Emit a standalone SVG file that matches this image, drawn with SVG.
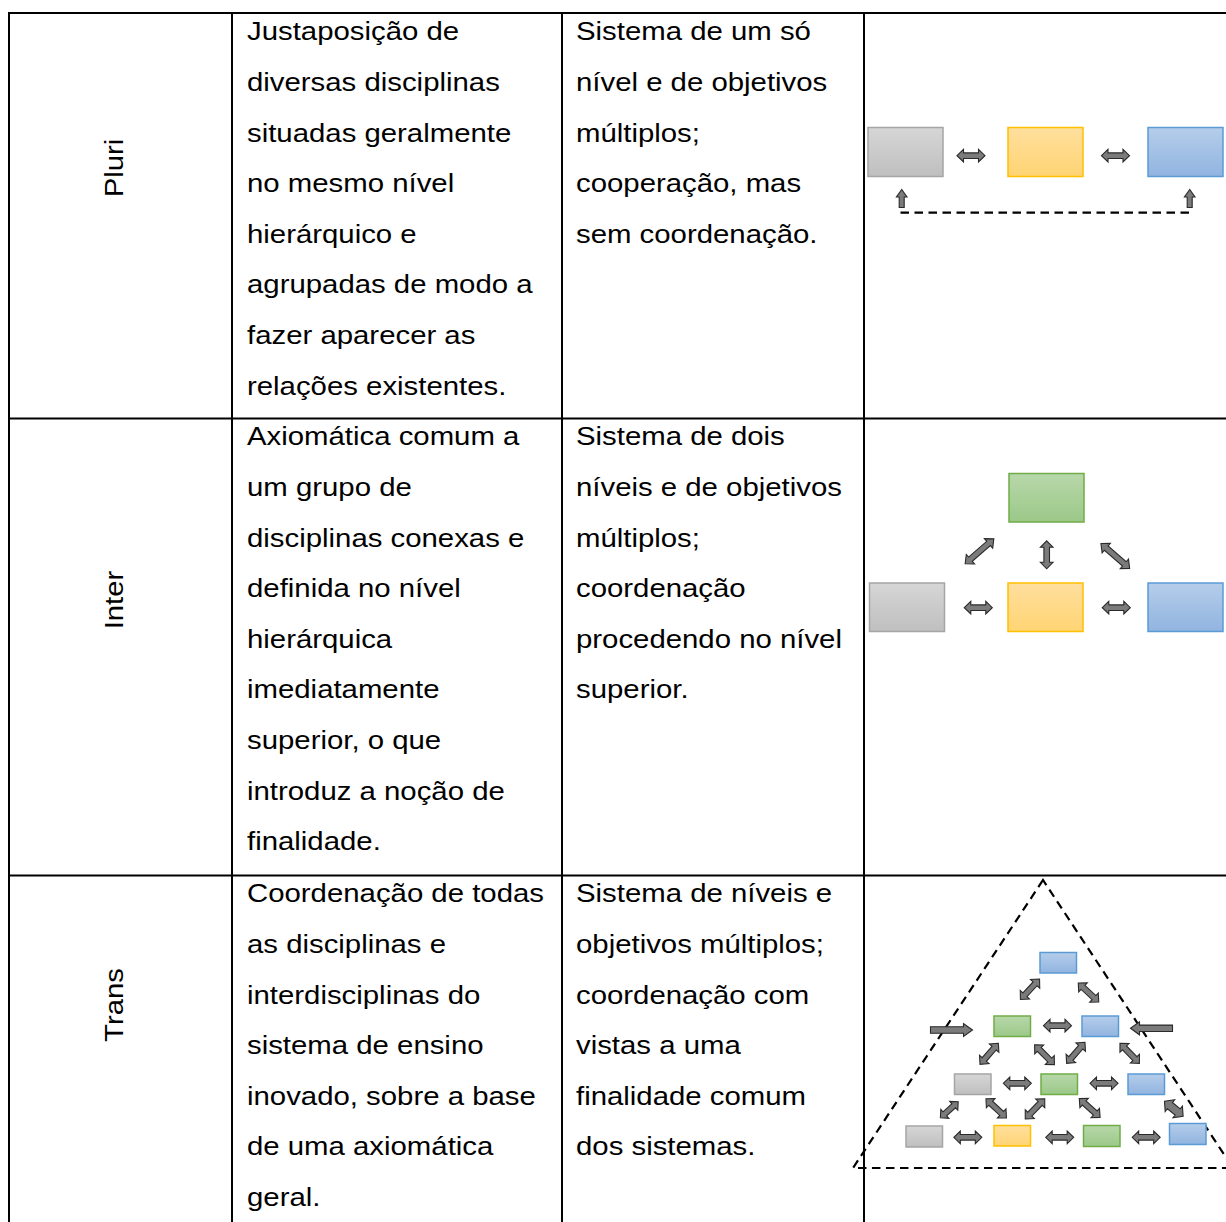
<svg xmlns="http://www.w3.org/2000/svg" xmlns:xlink="http://www.w3.org/1999/xlink" width="1226" height="1222" viewBox="0 0 1226 1222">
<style>
.t{font-family:"Liberation Sans",Arial,sans-serif;font-size:26.5px;fill:#000}
.grid{stroke:#000;stroke-width:2;fill:none}
.ar{fill:#7b7b7b;stroke:#2a2a2a;stroke-width:1.1;stroke-linejoin:miter}
.dash{fill:none;stroke:#000;stroke-width:2.2;stroke-dasharray:8.5 5.5}
.gray{fill:url(#gGray);stroke:#a5a5a5;stroke-width:1.5}
.yel{fill:url(#gYel);stroke:#ffc000;stroke-width:1.5}
.blu{fill:url(#gBlu);stroke:#5b9bd5;stroke-width:1.5}
.grn{fill:url(#gGrn);stroke:#70ad47;stroke-width:1.5}
</style>
<defs>
<linearGradient id="gGray" x1="0" y1="0" x2="0" y2="1"><stop offset="0" stop-color="#d6d6d6"/><stop offset="1" stop-color="#bfbfbf"/></linearGradient>
<linearGradient id="gYel" x1="0" y1="0" x2="0" y2="1"><stop offset="0" stop-color="#ffdf9e"/><stop offset="1" stop-color="#ffd473"/></linearGradient>
<linearGradient id="gBlu" x1="0" y1="0" x2="0" y2="1"><stop offset="0" stop-color="#b5cdea"/><stop offset="1" stop-color="#91b4e0"/></linearGradient>
<linearGradient id="gGrn" x1="0" y1="0" x2="0" y2="1"><stop offset="0" stop-color="#b8d8aa"/><stop offset="1" stop-color="#9bc888"/></linearGradient>
<path id="da28" class="ar" d="M-14,0 L-7.5,-6.3 L-7.5,-2.8 L7.5,-2.8 L7.5,-6.3 L14,0 L7.5,6.3 L7.5,2.8 L-7.5,2.8 L-7.5,6.3 Z"/>
<path id="da24" class="ar" d="M-12,0 L-6,-6 L-6,-2.7 L6,-2.7 L6,-6 L12,0 L6,6 L6,2.7 L-6,2.7 L-6,6 Z"/>
<path id="da24t" class="ar" d="M-12,0 L-5,-7.5 L-5,-4 L5,-4 L5,-7.5 L12,0 L5,7.5 L5,4 L-5,4 L-5,7.5 Z"/>
<path id="da38" class="ar" d="M-19,0 L-12,-6.3 L-12,-2.8 L12,-2.8 L12,-6.3 L19,0 L12,6.3 L12,2.8 L-12,2.8 L-12,6.3 Z"/>
<path id="sa42" class="ar" d="M21,0 L12,-6.5 L12,-3.2 L-21,-3.2 L-21,3.2 L12,3.2 L12,6.5 Z"/>
<path id="sa18" class="ar" d="M9,0 L1.5,-5.3 L1.5,-2.5 L-9,-2.5 L-9,2.5 L1.5,2.5 L1.5,5.3 Z"/>
</defs>
<g id="table">
<line class="grid" x1="8" y1="13" x2="1226" y2="13"/>
<line class="grid" x1="8" y1="418.5" x2="1226" y2="418.5"/>
<line class="grid" x1="8" y1="875.5" x2="1226" y2="875.5"/>
<line class="grid" x1="9" y1="12" x2="9" y2="1222"/>
<line class="grid" x1="232" y1="12" x2="232" y2="1222"/>
<line class="grid" x1="562" y1="12" x2="562" y2="1222"/>
<line class="grid" x1="864" y1="12" x2="864" y2="1222"/>
</g>
<g id="labels">
<text class="t" text-anchor="middle" transform="translate(123,168) rotate(-90) scale(1.108,1)">Pluri</text>
<text class="t" text-anchor="middle" transform="translate(123,600) rotate(-90) scale(1.108,1)">Inter</text>
<text class="t" text-anchor="middle" transform="translate(123,1005) rotate(-90) scale(1.108,1)">Trans</text>
</g>
<g id="col2-text" transform="translate(247,0) scale(1.108,1)">
<text class="t" x="0" y="40.5">Justaposição de</text>
<text class="t" x="0" y="91.1">diversas disciplinas</text>
<text class="t" x="0" y="141.7">situadas geralmente</text>
<text class="t" x="0" y="192.3">no mesmo nível</text>
<text class="t" x="0" y="242.9">hierárquico e</text>
<text class="t" x="0" y="293.5">agrupadas de modo a</text>
<text class="t" x="0" y="344.1">fazer aparecer as</text>
<text class="t" x="0" y="394.7">relações existentes.</text>
<text class="t" x="0" y="445.5">Axiomática comum a</text>
<text class="t" x="0" y="496.1">um grupo de</text>
<text class="t" x="0" y="546.7">disciplinas conexas e</text>
<text class="t" x="0" y="597.3">definida no nível</text>
<text class="t" x="0" y="647.9">hierárquica</text>
<text class="t" x="0" y="698.5">imediatamente</text>
<text class="t" x="0" y="749.1">superior, o que</text>
<text class="t" x="0" y="799.7">introduz a noção de</text>
<text class="t" x="0" y="850.3">finalidade.</text>
<text class="t" x="0" y="902.5">Coordenação de todas</text>
<text class="t" x="0" y="953.1">as disciplinas e</text>
<text class="t" x="0" y="1003.7">interdisciplinas do</text>
<text class="t" x="0" y="1054.3">sistema de ensino</text>
<text class="t" x="0" y="1104.9">inovado, sobre a base</text>
<text class="t" x="0" y="1155.5">de uma axiomática</text>
<text class="t" x="0" y="1206.1">geral.</text>
</g>
<g id="col3-text" transform="translate(576,0) scale(1.108,1)">
<text class="t" x="0" y="40.5">Sistema de um só</text>
<text class="t" x="0" y="91.1">nível e de objetivos</text>
<text class="t" x="0" y="141.7">múltiplos;</text>
<text class="t" x="0" y="192.3">cooperação, mas</text>
<text class="t" x="0" y="242.9">sem coordenação.</text>
<text class="t" x="0" y="445.5">Sistema de dois</text>
<text class="t" x="0" y="496.1">níveis e de objetivos</text>
<text class="t" x="0" y="546.7">múltiplos;</text>
<text class="t" x="0" y="597.3">coordenação</text>
<text class="t" x="0" y="647.9">procedendo no nível</text>
<text class="t" x="0" y="698.5">superior.</text>
<text class="t" x="0" y="902.5">Sistema de níveis e</text>
<text class="t" x="0" y="953.1">objetivos múltiplos;</text>
<text class="t" x="0" y="1003.7">coordenação com</text>
<text class="t" x="0" y="1054.3">vistas a uma</text>
<text class="t" x="0" y="1104.9">finalidade comum</text>
<text class="t" x="0" y="1155.5">dos sistemas.</text>
</g>
<g id="pluri-diagram">
<rect class="gray" x="868" y="127.5" width="75" height="49"/>
<rect class="yel" x="1008" y="127.5" width="75" height="49"/>
<rect class="blu" x="1148" y="127.5" width="75" height="49"/>
<use xlink:href="#da28" transform="translate(971,155.7)"/>
<use xlink:href="#da28" transform="translate(1115.5,155.7)"/>
<use xlink:href="#sa18" transform="translate(901.7,198.5) rotate(-90)"/>
<use xlink:href="#sa18" transform="translate(1189.7,198.5) rotate(-90)"/>
<line class="dash" x1="900.5" y1="212.7" x2="1190" y2="212.7"/>
</g>
<g id="inter-diagram">
<rect class="grn" x="1009" y="473.5" width="75" height="48.5"/>
<rect class="gray" x="869.5" y="583" width="75" height="48.5"/>
<rect class="yel" x="1008" y="583" width="75" height="48.5"/>
<rect class="blu" x="1148" y="583" width="75" height="48.5"/>
<use xlink:href="#da28" transform="translate(978.3,607.7)"/>
<use xlink:href="#da28" transform="translate(1116.3,607.7)"/>
<use xlink:href="#da38" transform="translate(979.5,551.3) rotate(-41)"/>
<use xlink:href="#da28" transform="translate(1046.7,554.8) rotate(90)"/>
<use xlink:href="#da38" transform="translate(1115.3,556) rotate(41)"/>
</g>
<g id="trans-diagram">
<polygon class="dash" points="1043,880 853,1168 1233,1168"/>
<rect class="blu" x="1040" y="952.5" width="36.5" height="20.5"/>
<rect class="grn" x="994" y="1016" width="36.5" height="20.5"/>
<rect class="blu" x="1082" y="1016" width="36.5" height="20.5"/>
<rect class="gray" x="954.5" y="1074" width="36.5" height="20.5"/>
<rect class="grn" x="1041" y="1074" width="36.5" height="20.5"/>
<rect class="blu" x="1128" y="1074" width="36.5" height="20.5"/>
<rect class="gray" x="906" y="1126" width="36.5" height="21"/>
<rect class="yel" x="994" y="1125.5" width="36.5" height="20.5"/>
<rect class="grn" x="1083.5" y="1125.5" width="36.5" height="21"/>
<rect class="blu" x="1169.5" y="1123.5" width="36.5" height="21"/>
<use xlink:href="#da28" transform="translate(1030,989.3) rotate(-47)"/>
<use xlink:href="#da28" transform="translate(1088.5,992.5) rotate(43)"/>
<use xlink:href="#da28" transform="translate(1057.5,1025.7)"/>
<use xlink:href="#sa42" transform="translate(951.5,1030)"/>
<use xlink:href="#sa42" transform="translate(1151.5,1028.3) rotate(180)"/>
<use xlink:href="#da28" transform="translate(989.2,1053.8) rotate(-49)"/>
<use xlink:href="#da28" transform="translate(1044.5,1054.7) rotate(45)"/>
<use xlink:href="#da28" transform="translate(1075.8,1052.8) rotate(-49)"/>
<use xlink:href="#da28" transform="translate(1129.7,1053.3) rotate(46)"/>
<use xlink:href="#da28" transform="translate(1017.3,1083.3)"/>
<use xlink:href="#da28" transform="translate(1104,1083.3)"/>
<use xlink:href="#da24" transform="translate(949.3,1109.8) rotate(-42)"/>
<use xlink:href="#da28" transform="translate(996.2,1108.3) rotate(43)"/>
<use xlink:href="#da28" transform="translate(1035,1108.8) rotate(-46)"/>
<use xlink:href="#da28" transform="translate(1089.7,1108) rotate(42)"/>
<use xlink:href="#da24t" transform="translate(1173.8,1108.8) rotate(39)"/>
<use xlink:href="#da28" transform="translate(967.8,1137.3)"/>
<use xlink:href="#da28" transform="translate(1059.7,1137.3)"/>
<use xlink:href="#da28" transform="translate(1146.2,1137.3)"/>
</g>
</svg>
